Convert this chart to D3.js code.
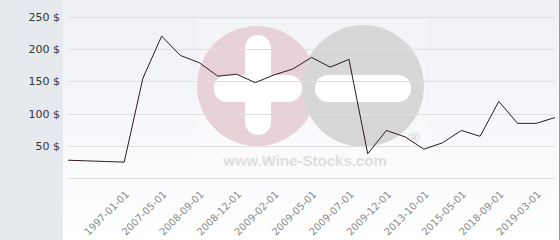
<!DOCTYPE html>
<html>
<head>
<meta charset="utf-8">
<script src="https://cdn.jsdelivr.net/npm/d3@7"></script>
<style>
  html, body { margin: 0; padding: 0; background: #fff; }
  svg { display: block; font-family: "DejaVu Sans", Verdana, sans-serif; }
</style>
</head>
<body>
<div id="chart"></div>
<script>
// price per bottle, one value per category (first three have no label)
var prices = [28, 27, 26, 25, 155, 220, 190, 179, 158, 161, 148, 160, 169, 187,
              172, 184, 38, 74, 64, 45, 55, 74, 65, 119, 85, 85, 94];

// labels are shown on every second category, starting at index 3
var tickLabels = ["1997-01-01", "2007-05-01", "2008-09-01", "2008-12-01",
                  "2009-02-01", "2009-05-01", "2009-07-01", "2009-12-01",
                  "2013-10-01", "2015-05-01", "2018-09-01", "2019-03-01"];
var tickStart = 3, tickStep = 2;

var yTicks = [50, 100, 150, 200, 250];
var gridValues = [0, 50, 100, 150, 200, 250];

var width = 560, height = 240;
var plotLeft = 63;

var svg = d3.select("#chart").append("svg")
    .attr("width", width)
    .attr("height", height);

// background gradient of the plot area
var defs = svg.append("defs");
var grad = defs.append("linearGradient")
    .attr("id", "bg")
    .attr("x1", 0).attr("y1", 0).attr("x2", 0).attr("y2", 1);
grad.append("stop").attr("offset", "0%").attr("stop-color", "#eef0f6");
grad.append("stop").attr("offset", "100%").attr("stop-color", "#ffffff");

svg.append("rect")
    .attr("x", 0).attr("y", 0)
    .attr("width", plotLeft).attr("height", height)
    .attr("fill", "#e6eaee");

svg.append("rect")
    .attr("x", plotLeft).attr("y", 0)
    .attr("width", width - plotLeft).attr("height", height)
    .attr("fill", "url(#bg)");

// right border
svg.append("line")
    .attr("x1", 559.5).attr("x2", 559.5)
    .attr("y1", 0).attr("y2", height)
    .attr("stroke", "#9a9a9a");

var x = d3.scalePoint()
    .domain(d3.range(prices.length))
    .range([68, 555]);

var y = d3.scaleLinear()
    .domain([0, 250])
    .range([178.3, 16.7]);

// watermark
var wm = svg.append("g").attr("class", "watermark");
wm.append("rect")
    .attr("x", 197).attr("y", 20).attr("width", 230).attr("height", 153)
    .attr("fill", "#fff").attr("opacity", 0.22);
wm.append("circle").attr("cx", 257).attr("cy", 86).attr("r", 60)
    .attr("fill", "#e8d2d8");
wm.append("circle").attr("cx", 363).attr("cy", 86).attr("r", 61)
    .attr("fill", "#d7d7d8");
wm.append("rect").attr("x", 245).attr("y", 35).attr("width", 26).attr("height", 100)
    .attr("rx", 13).attr("fill", "#fff");
wm.append("rect").attr("x", 214).attr("y", 75).attr("width", 88).attr("height", 27)
    .attr("rx", 13).attr("fill", "#fff");
wm.append("rect").attr("x", 315).attr("y", 75).attr("width", 96).attr("height", 27)
    .attr("rx", 13).attr("fill", "#fff");
wm.append("text")
    .attr("x", 305).attr("y", 166)
    .attr("text-anchor", "middle")
    .attr("font-family", "Liberation Sans, Arial, sans-serif")
    .attr("font-weight", "bold")
    .attr("font-size", 15)
    .attr("fill", "#dedede")
    .text("www.Wine-Stocks.com");
wm.append("text")
    .attr("x", 414).attr("y", 143)
    .attr("text-anchor", "middle")
    .attr("font-family", "Liberation Sans, Arial, sans-serif")
    .attr("font-size", 15)
    .attr("fill", "#d2d2d2")
    .text("\u00ae");

// gridlines
svg.append("g").selectAll("line")
    .data(gridValues)
    .join("line")
    .attr("x1", 68).attr("x2", 555)
    .attr("y1", function(d) { return Math.round(y(d)) + 0.5; })
    .attr("y2", function(d) { return Math.round(y(d)) + 0.5; })
    .attr("stroke", "#dedee2");

// y axis labels
var yAxis = d3.axisLeft(y)
    .tickValues(yTicks)
    .tickSize(0)
    .tickPadding(0)
    .tickFormat(function(d) { return d + " $"; });

svg.append("g")
    .attr("transform", "translate(60,0)")
    .call(yAxis)
    .call(function(g) { g.select(".domain").remove(); })
    .selectAll("text")
    .attr("font-family", "DejaVu Sans, Verdana, sans-serif")
    .attr("font-size", 11)
    .attr("fill", "#333");

// x axis labels
var tickIdx = tickLabels.map(function(d, i) { return tickStart + i * tickStep; });
var xAxis = d3.axisBottom(x)
    .tickValues(tickIdx)
    .tickSize(0)
    .tickFormat(function(d) { return tickLabels[(d - tickStart) / tickStep]; });

svg.append("g")
    .attr("transform", "translate(0,178)")
    .call(xAxis)
    .call(function(g) { g.select(".domain").remove(); })
    .selectAll("text")
    .attr("font-family", "DejaVu Sans, Verdana, sans-serif")
    .attr("font-size", 10)
    .attr("fill", "#8a8a8a")
    .attr("text-anchor", "end")
    .attr("dy", null)
    .attr("y", 0)
    .attr("transform", "translate(5,17) rotate(-45)");

// price line
var line = d3.line()
    .x(function(d, i) { return x(i); })
    .y(function(d) { return y(d); });

svg.append("path")
    .datum(prices)
    .attr("d", line)
    .attr("fill", "none")
    .attr("stroke", "#2e1a24")
    .attr("stroke-width", 1);
</script>
</body>
</html>
